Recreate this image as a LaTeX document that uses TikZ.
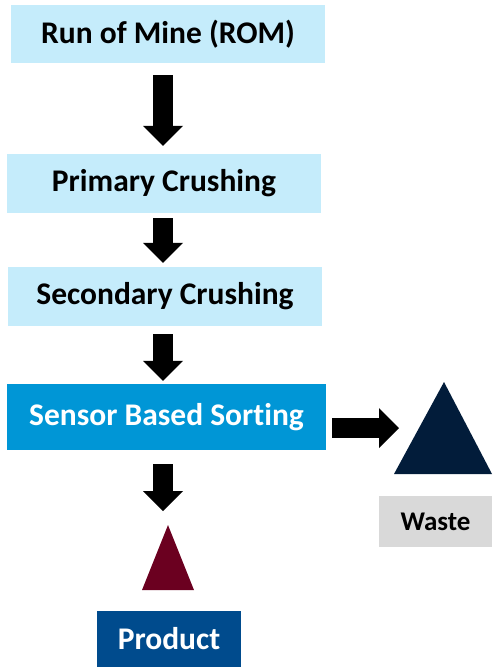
\documentclass[tikz,border=0pt]{standalone}
\usepackage{fontspec}
\setmainfont{Carlito}[Ligatures=NoCommon]
\usepackage{tikz}
\usetikzlibrary{calc}
\usetikzlibrary{positioning}
\usetikzlibrary{arrows.meta}
\definecolor{paleblue}{RGB}{197,236,251}
\definecolor{sortblue}{RGB}{0,150,214}
\definecolor{navytri}{RGB}{2,28,58}
\definecolor{maroontri}{RGB}{107,0,32}
\definecolor{wastegray}{RGB}{217,217,217}
\definecolor{productblue}{RGB}{0,75,141}
\tikzset{
    stepbox/.style={
        fill=paleblue,
        inner sep=0pt,
        font=\bfseries\fontsize{31.5}{36}\selectfont
    },
    % dicker schwarzer Blockpfeil
    blockarrow/.style={
        line width=20pt,
        black,
        -{Triangle[length=20pt, width=40pt, line width=0pt]}
    }
}
\begin{document}
\begin{tikzpicture}[x=1pt, y=-1pt]
	\useasboundingbox (0,0) rectangle (493,667);

	\node [stepbox, minimum width=314pt, minimum height=58pt] (rom) at (168,34) {Run of Mine (ROM)};
	\node [stepbox, minimum width=314pt, minimum height=59pt] (primary) at (164,183.5) {Primary Crushing};
	\node [stepbox, minimum width=314pt, minimum height=59pt] (secondary) at (165,296.5) {Secondary Crushing};
	\node [stepbox, fill=sortblue, text=white, minimum width=319pt, minimum height=66pt] (sorting) at (166.5,417) {Sensor Based Sorting};
	\node [stepbox, fill=wastegray, font=\bfseries\fontsize{27}{32}\selectfont, minimum width=113pt, minimum height=51pt] (waste) at (435.5,521.5) {Waste};
	\node [stepbox, fill=productblue, text=white, minimum width=144pt, minimum height=56pt] (product) at (169,639) {Product};

	\coordinate (axis) at (163,0);
	\coordinate (navytop) at (444,382);
	\coordinate (maroontop) at (168,525);

	\fill[navytri] (navytop) -- (492,474) -- (394,474) -- cycle;
	\fill[maroontri] (maroontop) -- (194,590) -- (142,590) -- cycle;

	\draw[blockarrow] ([yshift=-12pt]rom.south -| axis) -- ([yshift=8pt]primary.north -| axis);
	\draw[blockarrow] ([yshift=-5pt]primary.south -| axis) -- ([yshift=4pt]secondary.north -| axis);
	\draw[blockarrow] ([yshift=-8pt]secondary.south -| axis) -- ([yshift=3pt]sorting.north -| axis);
	\draw[blockarrow] ([yshift=-14pt]sorting.south -| axis) -- ([yshift=14pt]maroontop -| axis);
	\draw[blockarrow] ([xshift=6pt]sorting.east |- 0,428) -- (399,428);
\end{tikzpicture}
\end{document}
